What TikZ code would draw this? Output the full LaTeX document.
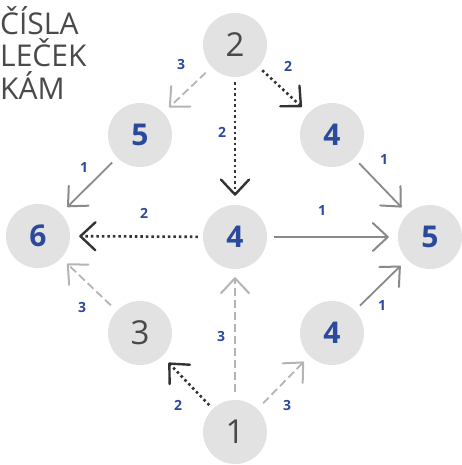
\documentclass[tikz,border=0pt]{standalone}
\usepackage{fontspec}
\setmainfont{Open Sans}
\usetikzlibrary{arrows.meta}
\definecolor{circ}{HTML}{E2E2E2}
\definecolor{nblue}{HTML}{2B4A9C}
\definecolor{ngray}{HTML}{333333}
\definecolor{tgray}{HTML}{4A4A4A}
\definecolor{lgray}{HTML}{8A8A8A}
\definecolor{dgray}{HTML}{B4B4B4}
\begin{document}
\begin{tikzpicture}[x=1pt,y=-1pt,
  numnode/.style={circle, fill=circ, minimum size=64pt, inner sep=0pt},
  bnum/.style={numnode, text=nblue, font=\bfseries\fontsize{30}{30}\selectfont},
  gnum/.style={numnode, text=tgray, font=\fontsize{33}{33}\selectfont},
  lbl/.style={text=nblue, font=\bfseries\fontsize{14}{14}\selectfont, inner sep=0pt},
  title/.style={text=tgray, font=\fontsize{30}{30}\selectfont, anchor=base west, inner sep=0pt},
  tipg/.style={-{Straight Barb[length=15pt,width=28pt,line width=2pt,round]}},
  tipd/.style={-{Straight Barb[length=15pt,width=28pt,line width=2.4pt,round]}},
  solidarr/.style={draw=lgray, line width=1.8pt, tipg, shorten <=7pt, shorten >=9pt},
  dasharr/.style={draw=dgray, line width=1.8pt, dash pattern=on 8pt off 4pt, tipg, shorten <=8pt, shorten >=8pt},
  dotarr/.style={draw=ngray, line width=2.6pt, dash pattern=on 2.5pt off 3pt, tipd, shorten <=5pt, shorten >=9pt}
]
\useasboundingbox (0,0) rectangle (461,465);
% title text
\node[title] (t1) at (0,35) {ČÍSLA};
\node[title] (t2) at (0,67) {LEČEK};
\node[title] (t3) at (0,100) {KÁM};
% nodes
\node[gnum] (n2) at (235,45) {2};
\node[bnum] (n5a) at (140,135) {5};
\node[bnum] (n4a) at (332,135) {4};
\node[bnum] (n6) at (38,236) {6};
\node[bnum] (n4c) at (235,237) {4};
\node[bnum] (n5r) at (430,237) {5};
\node[gnum] (n3) at (140,333) {3};
\node[bnum] (n4b) at (332,333) {4};
\node[gnum] (n1) at (235,432) {1};
% edges
\draw[dasharr] (n2) -- (n5a);
\draw[dotarr] (n2) -- (n4c);
\draw[dotarr] (n2) -- (n4a);
\draw[solidarr] (n5a) -- (n6);
\draw[solidarr] (n4a) -- (n5r);
\draw[dotarr] (n4c) -- (n6);
\draw[solidarr] (n4c) -- (n5r);
\draw[dasharr] (n3) -- (n6);
\draw[dasharr] (n1) -- (n4c);
\draw[dotarr] (n1) -- (n3);
\draw[dasharr] (n1) -- (n4b);
\draw[solidarr] (n4b) -- (n5r);
% edge labels
\node[lbl] (l1) at (181,65) {3};
\node[lbl] (l2) at (222,132) {2};
\node[lbl] (l3) at (288,66) {2};
\node[lbl] (l4) at (384,160) {1};
\node[lbl] (l5) at (322,211) {1};
\node[lbl] (l6) at (84,168) {1};
\node[lbl] (l7) at (144,213) {2};
\node[lbl] (l8) at (82,307) {3};
\node[lbl] (l9) at (221,336) {3};
\node[lbl] (l10) at (178,405) {2};
\node[lbl] (l11) at (287,405) {3};
\node[lbl] (l12) at (382,305) {1};
\end{tikzpicture}
\end{document}
